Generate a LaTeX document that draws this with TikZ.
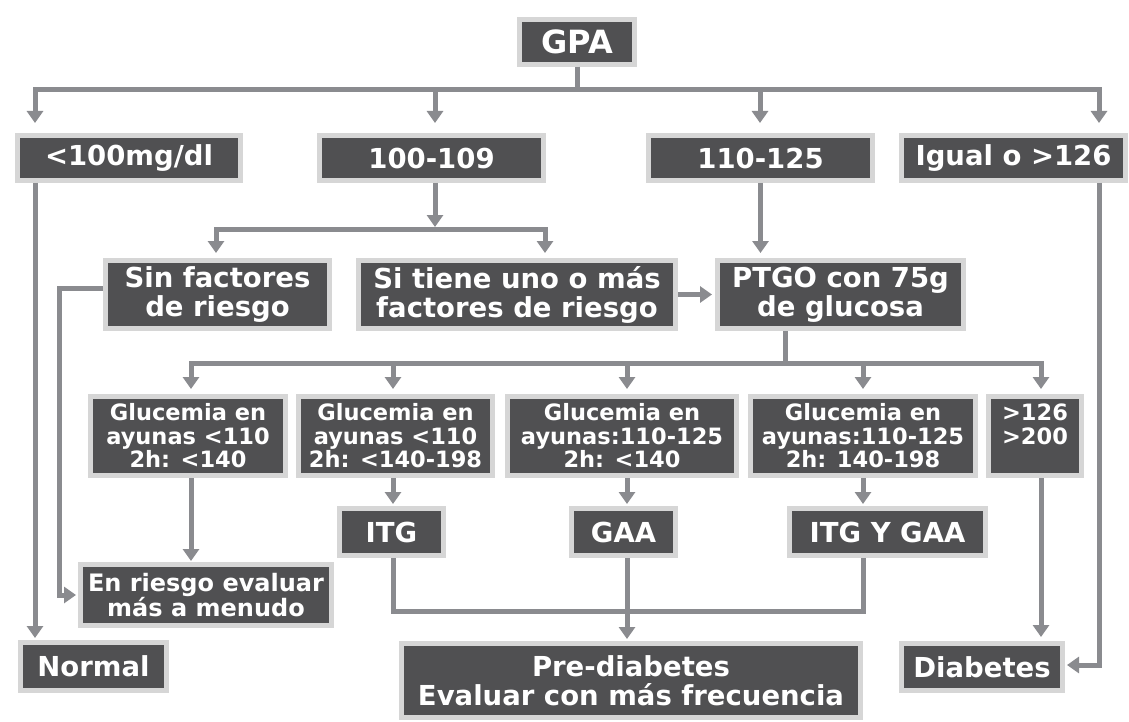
\documentclass[tikz,border=0pt]{standalone}
\usepackage{fontspec}
\setmainfont{DejaVu Sans}
\usetikzlibrary{arrows.meta}
\definecolor{boxdark}{RGB}{80,80,82}
\definecolor{boxedge}{RGB}{214,214,214}
\definecolor{conn}{RGB}{138,139,143}
\newcommand\fgpa{\fontsize{32}{34}\selectfont}
\newcommand\fbig{\fontsize{27.5}{29}\selectfont}
\newcommand\fmid{\fontsize{24}{25}\selectfont}
\newcommand\fsmall{\fontsize{22.5}{23.5}\selectfont}
\begin{document}
\begin{tikzpicture}[x=1pt,y=-1pt,
  box/.style={draw=boxedge, fill=boxdark, line width=5pt, text=white,
    font=\bfseries\fbig, inner sep=0pt, align=center},
  sbox/.style={box, font=\bfseries\fsmall},
  line/.style={draw=conn, line width=5pt},
  arr/.style={line, -{Triangle[width=16pt,length=12pt]}}]
\fill[white] (0,0) rectangle (1129,722);
\useasboundingbox (0,0) rectangle (1129,722);

% nodes
\node[box, font=\bfseries\fgpa, minimum width=115, minimum height=45] (gpa) at (577,42) {GPA};
\node[box, minimum width=223, minimum height=45] (lt100) at (129,158) {<100mg/dl};
\node[box, minimum width=224, minimum height=45] (r100) at (431.5,158) {100-109};
\node[box, minimum width=224, minimum height=45] (r110) at (760.5,158) {110-125};
\node[box, minimum width=224, minimum height=45] (ige) at (1013.5,158) {Igual o >126};

\node[box, minimum width=224, minimum height=68] (sinf) at (217.5,294.5) {Sin factores\\de riesgo};
\node[box, minimum width=317, minimum height=68] (sitiene) at (517,294.5) {Si tiene uno o más\\factores de riesgo};
\node[box, minimum width=246, minimum height=68] (ptgo) at (840.5,294.5) {PTGO con 75g\\de glucosa};

\node[sbox, minimum width=195, minimum height=79] (g1) at (188,436) {Glucemia en\\ayunas <110\\2h: <140};
\node[sbox, minimum width=194, minimum height=79] (g2) at (395.5,436) {Glucemia en\\ayunas <110\\2h: <140-198};
\node[sbox, minimum width=229, minimum height=79] (g3) at (622,436) {Glucemia en\\ayunas:110-125\\2h: <140};
\node[sbox, minimum width=225, minimum height=79] (g4) at (863,436) {Glucemia en\\ayunas:110-125\\2h: 140-198};
\node[sbox, minimum width=93, minimum height=79] (g5) at (1035,436) {>126\\>200\\\phantom{0}};

\node[box, minimum width=104, minimum height=47] (itg) at (391.5,532) {ITG};
\node[box, minimum width=104, minimum height=47] (gaa) at (623.5,532) {GAA};
\node[box, minimum width=196, minimum height=47] (itgy) at (887.5,532) {ITG Y GAA};

\node[box, font=\bfseries\fmid, minimum width=251, minimum height=61] (enr) at (206,595) {En riesgo evaluar\\más a menudo};

\node[box, minimum width=146, minimum height=48] (normal) at (93.5,666.5) {Normal};
\node[box, minimum width=459, minimum height=74] (prediab) at (631,680.5) {Pre-diabetes\\Evaluar con más frecuencia};
\node[box, minimum width=161, minimum height=47] (diab) at (982,667) {Diabetes};

% coordinates
\coordinate (b1L) at (35,90);
\coordinate (b1a) at (435,90);
\coordinate (b1b) at (760,90);
\coordinate (b1R) at (1099,90);
\coordinate (b2) at (435,229);
\coordinate (b2L) at (216,229);
\coordinate (b2R) at (545,229);
\coordinate (sL) at (59,0);
\coordinate (b3) at (785,363);
\coordinate (b3a) at (191,363);
\coordinate (b3b) at (393,363);
\coordinate (b3c) at (627,363);
\coordinate (b3d) at (863,363);
\coordinate (b3e) at (1041,363);
\coordinate (b4L) at (393,611);
\coordinate (b4R) at (863,611);

% connectors row 0 -> 1
\draw[arr, shorten >=10pt] (gpa.south) |- (b1L) -- (b1L |- lt100.north);
\draw[arr, shorten >=10pt] (gpa.south) |- (b1R) -- (b1R |- ige.north);
\draw[arr, shorten >=10pt] (b1a) -- (b1a |- r100.north);
\draw[arr, shorten >=10pt] (b1b) -- (b1b |- r110.north);

% 100-109 split
\draw[arr, shorten >=2pt] (b2 |- r100.south) -- (b2);
\draw[arr, shorten >=5pt] (b2) -- (b2L) -- (b2L |- sinf.north);
\draw[arr, shorten >=5pt] (b2) -- (b2R) -- (b2R |- sitiene.north);

% 110-125 -> PTGO
\draw[arr, shorten >=5pt] (r110.south) -- (r110.south |- ptgo.north);
\draw[arr, shorten >=3pt] (sitiene.east) -- (ptgo.west);

% left long connectors
\draw[arr, shorten >=2pt] ([yshift=6pt]sinf.west) -| (sL |- enr.west) -- (enr.west);
\draw[arr, shorten >=2pt] (b1L |- lt100.south) -- (b1L |- normal.north);
\draw[arr, shorten >=2pt] (b1R |- ige.south) |- ([yshift=2pt]diab.east);

% PTGO split
\draw[line] (b3 |- ptgo.south) -- (b3);
\draw[arr, shorten >=5pt] (b3) -- (b3a) -- (b3a |- g1.north);
\draw[arr, shorten >=5pt] (b3) -- (b3e) -- (b3e |- g5.north);
\draw[arr, shorten >=5pt] (b3b) -- (b3b |- g2.north);
\draw[arr, shorten >=5pt] (b3c) -- (b3c |- g3.north);
\draw[arr, shorten >=5pt] (b3d) -- (b3d |- g4.north);

% row 3 -> results
\draw[arr, shorten >=1pt] (b3a |- g1.south) -- (b3a |- enr.north);
\draw[arr, shorten >=2pt] (b3b |- g2.south) -- (b3b |- itg.north);
\draw[arr, shorten >=2pt] (b3c |- g3.south) -- (b3c |- gaa.north);
\draw[arr, shorten >=2pt] (b3d |- g4.south) -- (b3d |- itgy.north);
\draw[arr, shorten >=4pt] (b3e |- g5.south) -- (b3e |- diab.north);

% to pre-diabetes
\draw[line] (b3b |- itg.south) -- (b4L) -- (b4R) -- (b3d |- itgy.south);
\draw[arr, shorten >=2pt] (b3c |- gaa.south) -- (b3c |- prediab.north);
\end{tikzpicture}
\end{document}
